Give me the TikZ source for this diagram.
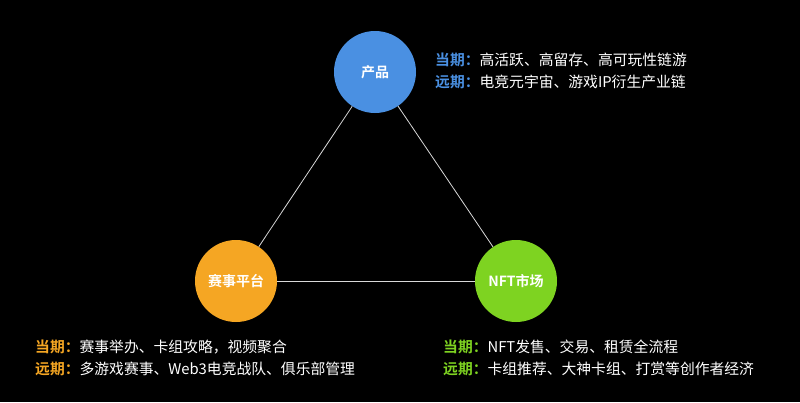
\documentclass[tikz,border=0pt]{standalone}
\usepackage{fontspec}
\setmainfont{Noto Sans CJK SC}
\newfontfamily\cjkb{Noto Sans CJK SC Bold}
\definecolor{cblue}{HTML}{4A90E2}
\definecolor{corange}{HTML}{F5A623}
\definecolor{cgreen}{HTML}{7ED321}
\begin{document}
\begin{tikzpicture}[x=1pt,y=-1pt,
  hub/.style={circle,minimum size=82pt,inner sep=0pt,text=white,font=\cjkb\fontsize{14}{16}\selectfont},
  desc/.style={anchor=west,text=white,font=\fontsize{14.8}{17}\selectfont,inner sep=0pt},
  link/.style={draw=white!85!black,line width=0.8pt}]
\fill[black] (0,0) rectangle (800,402);
\useasboundingbox (0,0) rectangle (800,402);
\node[hub,fill=cblue] (p) at (375,72) {产品};
\node[hub,fill=corange] (s) at (236,281) {赛事平台};
\node[hub,fill=cgreen] (n) at (516,281) {NFT市场};
\draw[link] (p) -- (s);
\draw[link] (p) -- (n);
\draw[link] (s) -- (n);
\node[desc] (p1) at (435,60) {{\cjkb\color{cblue}当期：}高活跃、高留存、高可玩性链游};
\node[desc] (p2) at (435,82) {{\cjkb\color{cblue}远期：}电竞元宇宙、游戏IP衍生产业链};
\node[desc] (s1) at (35,347) {{\cjkb\color{corange}当期：}赛事举办、卡组攻略，视频聚合};
\node[desc] (s2) at (35,369) {{\cjkb\color{corange}远期：}多游戏赛事、Web3电竞战队、俱乐部管理};
\node[desc] (n1) at (443,347) {{\cjkb\color{cgreen}当期：}NFT发售、交易、租赁全流程};
\node[desc] (n2) at (443,369) {{\cjkb\color{cgreen}远期：}卡组推荐、大神卡组、打赏等创作者经济};
\end{tikzpicture}
\end{document}
